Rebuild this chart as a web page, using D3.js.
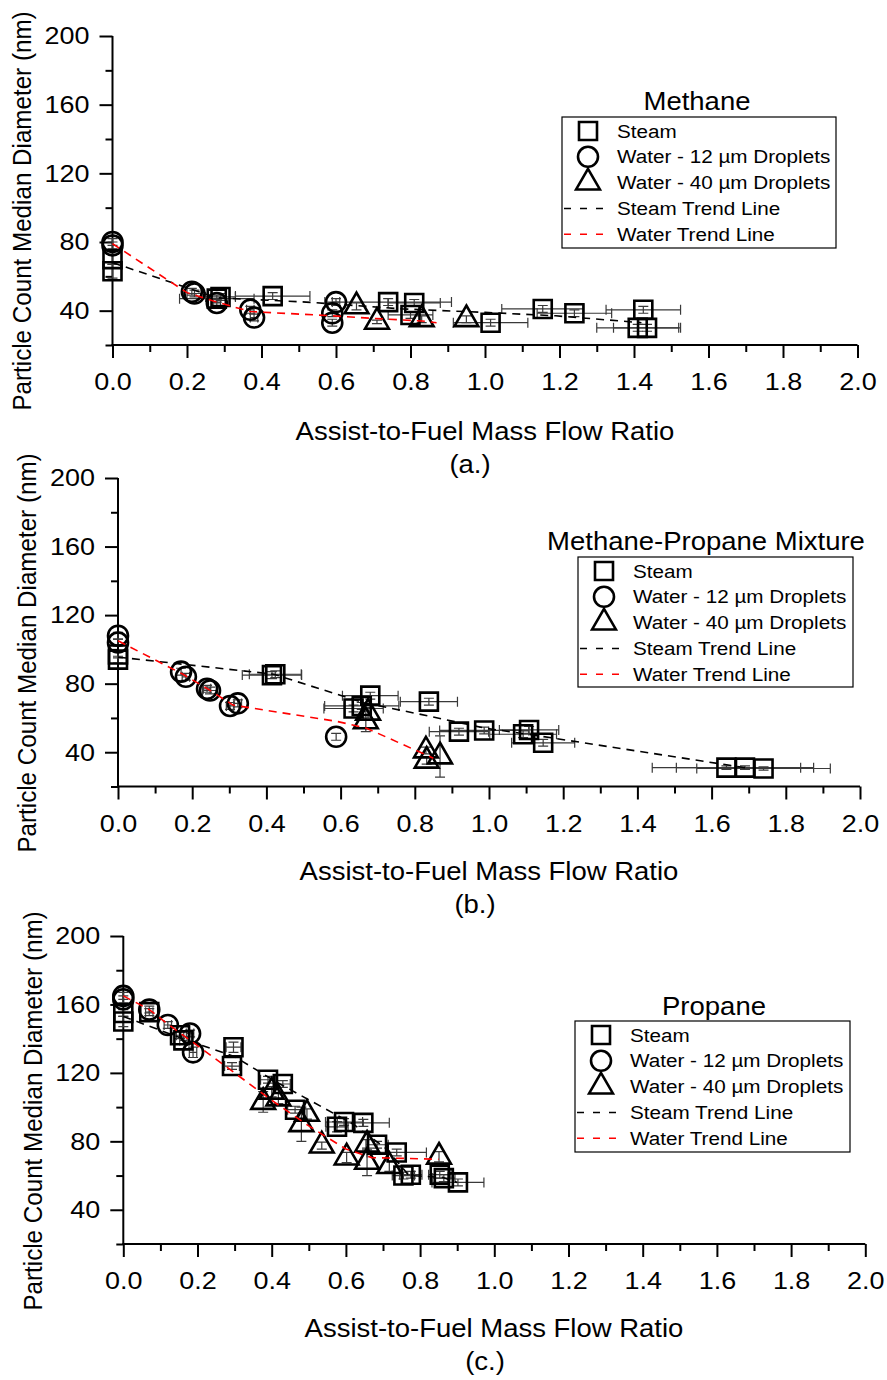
<!DOCTYPE html>
<html>
<head>
<meta charset="utf-8">
<script src="https://cdn.jsdelivr.net/npm/d3@7"></script>
<style>
  body { margin: 0; background: #fff; }
  svg { display: block; }
  text { font-family: Arial, "Liberation Sans", sans-serif; fill: #000; }
</style>
</head>
<body>
<svg id="chart" width="887" height="1380"></svg>
<script>
// ---- axis ticks and labels ----
const xMajorTicks = [0, 0.2, 0.4, 0.6, 0.8, 1.0, 1.2, 1.4, 1.6, 1.8, 2.0];
const xMinorTicks = [0.1, 0.3, 0.5, 0.7, 0.9, 1.1, 1.3, 1.5, 1.7, 1.9];
const yMajorTicks = [40, 80, 120, 160, 200];
const yMinorTicks = [20, 60, 100, 140, 180];
const xDomain = [0, 2.0];
const yDomain = [20, 200];
const xTitle = "Assist-to-Fuel Mass Flow Ratio";
const yTitle = "Particle Count Median Diameter (nm)";
const legendLabels = ["Steam", "Water - 12 \u00b5m Droplets", "Water - 40 \u00b5m Droplets", "Steam Trend Line", "Water Trend Line"];
const fuelNames = ["Methane", "Methane-Propane Mixture", "Propane"];
const panelTags = ["(a.)", "(b.)", "(c.)"];

// ---- measurements: [mass flow ratio, median diameter, ratio error, diameter error] ----
// Methane
const steamMethane = [
  [0, 63, 0, 4], [0, 70, 0, 3], [0.28, 47, 0.1, 2], [0.29, 48, 0.04, 2],
  [0.43, 48.5, 0.1, 2], [0.74, 45, 0.17, 2], [0.81, 44.5, 0.07, 2], [0.80, 37.5, 0.06, 2],
  [1.015, 33, 0.1, 2], [1.155, 41, 0.11, 2], [1.24, 38.5, 0.1, 2], [1.425, 40.5, 0.1, 2],
  [1.41, 30, 0.11, 2], [1.435, 30, 0.09, 2]
];
const water12Methane = [
  [0, 80, 0, 2], [0, 78, 0, 2], [0.213, 51, 0, 2], [0.22, 50, 0.02, 2],
  [0.28, 44.5, 0.01, 2], [0.37, 40.5, 0.01, 2], [0.38, 36, 0.01, 2],
  [0.60, 45, 0.01, 2], [0.59, 38.5, 0, 2], [0.59, 33, 0, 2]
];
const water40Methane = [
  [0.655, 42.5, 0, 2], [0.71, 33.5, 0, 1], [0.83, 35, 0, 2], [0.95, 35, 0, 2]
];
const steamTrendMethane = [[0, 68], [0.28, 47.5], [0.52, 45], [0.78, 41], [1.0, 39], [1.19, 37], [1.42, 33]];
const waterTrendMethane = [[0, 79], [0.2, 50.5], [0.28, 45], [0.37, 39.5], [0.59, 37], [0.7, 35.5], [0.83, 34], [0.87, 33]];

// Methane-propane mixture
const steamMixture = [
  [0, 97, 0, 2], [0, 94, 0, 2], [0.415, 85, 0.08, 2], [0.424, 85.5, 0.07, 2],
  [0.635, 65.5, 0.08, 2], [0.657, 67, 0.1, 2], [0.68, 73, 0.075, 2], [0.838, 69.5, 0.077, 2],
  [0.919, 52, 0.08, 2], [0.987, 52.7, 0.12, 2], [1.092, 50.5, 0.09, 2], [1.108, 53, 0.08, 2],
  [1.146, 45.5, 0.085, 2], [1.64, 31, 0.2, 1], [1.69, 31, 0.185, 1], [1.74, 30.5, 0.18, 1]
];
const water12Mixture = [
  [0, 108, 0, 2], [0, 104, 0, 2], [0.17, 87, 0, 2], [0.183, 84, 0.01, 2],
  [0.24, 77, 0.01, 2], [0.248, 76, 0.02, 2], [0.302, 67, 0.01, 2], [0.323, 68.5, 0.01, 2],
  [0.588, 49, 0, 2]
];
const water40Mixture = [
  [0.674, 63, 0, 3], [0.668, 58, 0, 6], [0.83, 41, 0, 2], [0.832, 35, 0, 2], [0.868, 37.5, 0, 12]
];
const steamTrendMixture = [[0, 95.5], [0.42, 85.5], [0.66, 69], [0.84, 61], [0.99, 54], [1.12, 50], [1.69, 31]];
const waterTrendMixture = [[0, 105], [0.175, 85.5], [0.245, 76.5], [0.31, 67.5], [0.59, 58], [0.67, 54], [0.85, 36.5]];

// Propane
const steamPropane = [
  [0, 150, 0, 3], [0, 155, 0, 2], [0.07, 155.5, 0.01, 2], [0.153, 142, 0.01, 2],
  [0.162, 139, 0.01, 2], [0.297, 135, 0.02, 3], [0.293, 124, 0.02, 2], [0.39, 116, 0.02, 2],
  [0.43, 113.5, 0.02, 2], [0.463, 98.5, 0.02, 2], [0.576, 88.5, 0.03, 3], [0.595, 91.3, 0.05, 2],
  [0.647, 90.8, 0.07, 2], [0.684, 78, 0.03, 2], [0.737, 73.5, 0.08, 2], [0.755, 60, 0.03, 2],
  [0.775, 60.5, 0.03, 2], [0.853, 60.5, 0.03, 2], [0.864, 58.5, 0.03, 2], [0.902, 56, 0.07, 2]
];
const water12Propane = [
  [0, 165, 0, 2], [0, 163, 0, 2], [0.07, 157, 0, 2], [0.12, 148, 0.01, 2],
  [0.18, 143, 0.01, 2], [0.188, 132, 0.01, 3]
];
const water40Propane = [
  [0.377, 103, 0, 6], [0.40, 109, 0, 3], [0.418, 105, 0, 3], [0.48, 90, 0, 10],
  [0.495, 96, 0, 3], [0.535, 77.5, 0, 2], [0.602, 70.5, 0, 3], [0.657, 78, 0, 3],
  [0.657, 68, 0, 8], [0.717, 65.5, 0, 3], [0.851, 71, 0, 3]
];
const steamTrendPropane = [[0, 153], [0.16, 140], [0.3, 129.5], [0.41, 115], [0.62, 90], [0.71, 75.5], [0.77, 60], [0.86, 59], [0.9, 56]];
const waterTrendPropane = [[0, 165], [0.07, 157], [0.12, 148.5], [0.19, 137.5], [0.3, 120], [0.4, 104], [0.5, 89], [0.6, 75.5], [0.67, 70.5], [0.85, 69.5]];

// ---- layout of the three stacked panels ----
const SX = 1.1; // horizontal glyph stretch of the typeface
const panels = [
  { fuel: 0, steam: steamMethane, w12: water12Methane, w40: water40Methane,
    steamTrend: steamTrendMethane, waterTrend: waterTrendMethane,
    x0: 112.5, x1: 857.5, yBottom: 345, yTop: 36,
    legend: { x: 562, y: 117, w: 274, h: 131, titleX: 697, titleY: 110 },
    xTitleX: 485, xTitleY: 440, tagX: 470, tagY: 473, yTitleX: 31, yTitleY: 211 },
  { fuel: 1, steam: steamMixture, w12: water12Mixture, w40: water40Mixture,
    steamTrend: steamTrendMixture, waterTrend: waterTrendMixture,
    x0: 118, x1: 860, yBottom: 786.5, yTop: 478,
    legend: { x: 578, y: 557, w: 275, h: 130, titleX: 706, titleY: 550 },
    xTitleX: 489, xTitleY: 880, tagX: 475, tagY: 913, yTitleX: 36, yTitleY: 653 },
  { fuel: 2, steam: steamPropane, w12: water12Propane, w40: water40Propane,
    steamTrend: steamTrendPropane, waterTrend: waterTrendPropane,
    x0: 123.3, x1: 865.3, yBottom: 1244, yTop: 936,
    legend: { x: 575, y: 1021, w: 275, h: 131, titleX: 714, titleY: 1015 },
    xTitleX: 494, xTitleY: 1337, tagX: 485, tagY: 1370, yTitleX: 42, yTitleY: 1111 }
];

const svg = d3.select("#chart");

const symSquare = d3.symbol().type(d3.symbolSquare).size(18 * 18);
const symCircle = d3.symbol().type(d3.symbolCircle).size(Math.PI * 10 * 10);
const symTriangle = d3.symbol().type(d3.symbolTriangle).size(245);
const markStroke = 2.6;

function hText(g, x, y, str, size, anchor) {
  return g.append("text")
    .attr("x", x / SX).attr("y", y)
    .attr("transform", `scale(${SX},1)`)
    .attr("text-anchor", anchor || "middle")
    .style("font-size", size + "px")
    .text(str);
}

function drawPanel(p) {
  const g = svg.append("g");
  const x = d3.scaleLinear().domain(xDomain).range([p.x0, p.x1]);
  const y = d3.scaleLinear().domain(yDomain).range([p.yBottom, p.yTop]);
  const fmtX = d3.format(".1f");

  // minor ticks
  g.append("g").attr("transform", `translate(0,${p.yBottom})`)
    .call(d3.axisBottom(x).tickValues(xMinorTicks).tickSize(7).tickFormat("").tickSizeOuter(0))
    .call(s => s.select(".domain").remove());
  g.append("g").attr("transform", `translate(${p.x0},0)`)
    .call(d3.axisLeft(y).tickValues(yMinorTicks).tickSize(7).tickFormat("").tickSizeOuter(0))
    .call(s => s.select(".domain").remove());

  // major ticks with labels
  const xa = g.append("g").attr("transform", `translate(0,${p.yBottom})`)
    .call(d3.axisBottom(x).tickValues(xMajorTicks).tickSize(13).tickPadding(15).tickFormat(fmtX).tickSizeOuter(0));
  const ya = g.append("g").attr("transform", `translate(${p.x0},0)`)
    .call(d3.axisLeft(y).tickValues(yMajorTicks).tickSize(13).tickPadding(10).tickSizeOuter(0));

  [xa, ya].forEach(a => {
    a.selectAll("path, line").attr("stroke", "#000").attr("stroke-width", 2);
    a.selectAll("text").style("font-size", "24.5px").attr("fill", "#000")
      .each(function () {
        const t = d3.select(this);
        t.attr("x", (+t.attr("x") || 0) / SX).attr("transform", `scale(${SX},1)`);
      });
    a.attr("font-family", null).attr("font-size", null);
  });
  g.selectAll("g.tick line").attr("stroke", "#000").attr("stroke-width", 2);
  // axis lines reach exactly across the data frame
  xa.select(".domain").attr("d", `M${p.x0 - 1},0H${p.x1}`);
  ya.select(".domain").attr("d", `M0,${p.yBottom + 1}V${p.yTop}`);

  // axis titles and panel tag
  hText(g, p.xTitleX, p.xTitleY, xTitle, 25);
  hText(g, p.tagX, p.tagY, panelTags[p.fuel], 25);
  g.append("text")
    .attr("transform", `translate(${p.yTitleX},${p.yTitleY}) rotate(-90) scale(1,${SX})`)
    .attr("text-anchor", "middle")
    .style("font-size", "24.2px")
    .text(yTitle);

  // error bars
  const eb = g.append("g").attr("stroke", "#3a3a3a").attr("stroke-width", 1.2).attr("fill", "none");
  const cap = 5;
  [p.steam, p.w12, p.w40].forEach(series => {
    series.forEach(d => {
      const cx = x(d[0]), cy = y(d[1]);
      if (d[2] > 0) {
        const xl = x(d[0] - d[2]), xr = x(d[0] + d[2]);
        eb.append("path").attr("d",
          `M${xl},${cy}H${xr}M${xl},${cy - cap}V${cy + cap}M${xr},${cy - cap}V${cy + cap}`);
      }
      if (d[3] > 0) {
        const yt = y(d[1] + d[3]), yb = y(d[1] - d[3]);
        eb.append("path").attr("d",
          `M${cx},${yt}V${yb}M${cx - cap},${yt}H${cx + cap}M${cx - cap},${yb}H${cx + cap}`);
      }
    });
  });

  // markers
  const mk = g.append("g").attr("stroke", "#000").attr("stroke-width", markStroke).attr("fill", "none");
  const addMarks = (series, sym) => {
    mk.selectAll(null).data(series).enter().append("path")
      .attr("d", sym)
      .attr("transform", d => `translate(${x(d[0])},${y(d[1])})`);
  };
  addMarks(p.steam, symSquare);
  addMarks(p.w12, symCircle);
  addMarks(p.w40, symTriangle);

  // trend lines
  const line = d3.line().x(d => x(d[0])).y(d => y(d[1]));
  g.append("path").datum(p.steamTrend).attr("d", line)
    .attr("fill", "none").attr("stroke", "#000").attr("stroke-width", 1.6).attr("stroke-dasharray", "8,6");
  g.append("path").datum(p.waterTrend).attr("d", line)
    .attr("fill", "none").attr("stroke", "#f00").attr("stroke-width", 1.6).attr("stroke-dasharray", "8,6");

  // legend
  const L = p.legend;
  const lg = g.append("g");
  hText(lg, L.titleX, L.titleY, fuelNames[p.fuel], 25);
  lg.append("rect").attr("x", L.x).attr("y", L.y).attr("width", L.w).attr("height", L.h)
    .attr("fill", "#fff").attr("stroke", "#000").attr("stroke-width", 1.2);
  const rowY = i => L.y + 14 + i * 25.8;
  const symX = L.x + 26;
  const syms = [symSquare, symCircle, symTriangle];
  syms.forEach((s, i) => {
    lg.append("path").attr("d", s).attr("transform", `translate(${symX},${rowY(i)})`)
      .attr("fill", "none").attr("stroke", "#000").attr("stroke-width", markStroke);
  });
  ["#000", "#f00"].forEach((c, j) => {
    const ry = rowY(3 + j);
    lg.append("line").attr("x1", L.x + 2).attr("x2", L.x + 47).attr("y1", ry).attr("y2", ry)
      .attr("stroke", c).attr("stroke-width", 1.5).attr("stroke-dasharray", "7,9");
  });
  legendLabels.forEach((t, i) => {
    hText(lg, L.x + 55, rowY(i) + 6.7, t, 18.8, "start");
  });
}

panels.forEach(drawPanel);
</script>
</body>
</html>
